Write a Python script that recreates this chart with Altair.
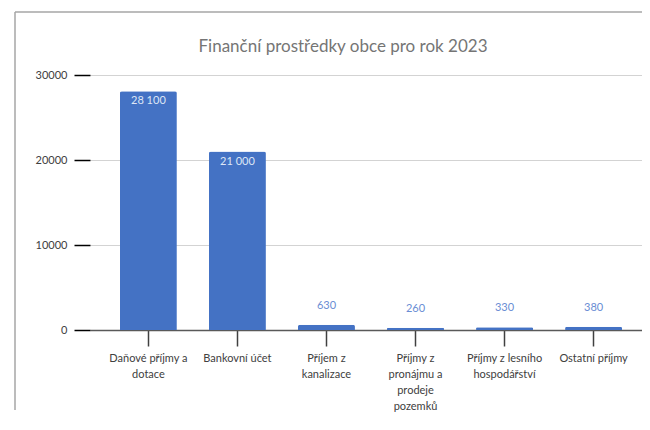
import altair as alt
import pandas as pd

# ---- data ----
categories = [
    "Daňové příjmy a|dotace",
    "Bankovní účet",
    "Příjem z|kanalizace",
    "Příjmy z|pronájmu a|prodeje|pozemků",
    "Příjmy z lesního|hospodářství",
    "Ostatní příjmy",
]
values = [28100, 21000, 630, 260, 330, 380]
title_text = "Finanční prostředky obce pro rok 2023"
y_ticks = [0, 10000, 20000, 30000]

df = pd.DataFrame({"cat": categories, "value": values})
df["label"] = [f"{v:,}".replace(",", " ") for v in values]

W, H = 552, 255
BAR = "#4472C4"
FONT = "Lato"

x_enc = alt.X(
    "cat:N",
    sort=None,
    scale=alt.Scale(paddingInner=0.36, paddingOuter=0.28, align=0.6),
    axis=alt.Axis(
        title=None,
        labelAngle=0,
        labelExpr="split(datum.label, '|')",
        labelLimit=0,
        tickSize=16,
        tickColor="#404040",
        tickWidth=1.5,
        domainColor="#595959",
        domainWidth=1.5,
        labelFont=FONT,
        labelFontSize=11,
        labelColor="#404040",
        labelPadding=6,
        labelLineHeight=16,
    ),
)
y_enc = alt.Y(
    "value:Q",
    scale=alt.Scale(domain=[0, 30000], nice=False),
    axis=alt.Axis(
        title=None,
        values=y_ticks,
        format="d",
        tickSize=16,
        tickColor="#000000",
        tickWidth=1.5,
        domain=False,
        gridColor="#d3d3d3",
        labelFont=FONT,
        labelFontSize=11,
        labelColor="#404040",
        labelPadding=7,
    ),
)

base = alt.Chart(df)
bars = base.mark_bar(color=BAR, cornerRadiusTopLeft=2, cornerRadiusTopRight=2).encode(
    x=x_enc, y=y_enc
)
inside = base.transform_filter("datum.value > 5000").mark_text(
    color="#dde6f6", baseline="middle", dy=10, font=FONT, fontSize=11
).encode(x=alt.X("cat:N", sort=None), y="value:Q", text="label:N")
above = base.transform_filter("datum.value <= 5000").mark_text(
    color="#6a8dd4", baseline="middle", dy=-19, font=FONT, fontSize=11
).encode(x=alt.X("cat:N", sort=None), y="value:Q", text="label:N")

one = pd.DataFrame({"t": [title_text]})
frame_left = alt.Chart(one).mark_rule(color="#a6a6a6", strokeWidth=1.5).encode(
    x=alt.value(-75), x2=alt.value(-75), y=alt.value(-63), y2=alt.value(H + 80)
)
frame_top = alt.Chart(one).mark_rule(color="#a6a6a6", strokeWidth=1.5).encode(
    x=alt.value(-75), x2=alt.value(W), y=alt.value(-63), y2=alt.value(-63)
)
title = alt.Chart(one).mark_text(
    font=FONT, fontSize=17, color="#757575", align="center", baseline="alphabetic"
).encode(x=alt.value(253), y=alt.value(-23), text="t:N")

chart = (
    alt.layer(frame_left, frame_top, title, bars, inside, above)
    .properties(
        width=W,
        height=H,
        autosize=alt.AutoSizeParams(type="none"),
        padding={"left": 82, "top": 67, "right": 0, "bottom": 88},
        background="white",
    )
    .configure_view(strokeWidth=0, fill="white")
)

chart.save("out.html", embed_options={"renderer": "svg", "actions": False})
